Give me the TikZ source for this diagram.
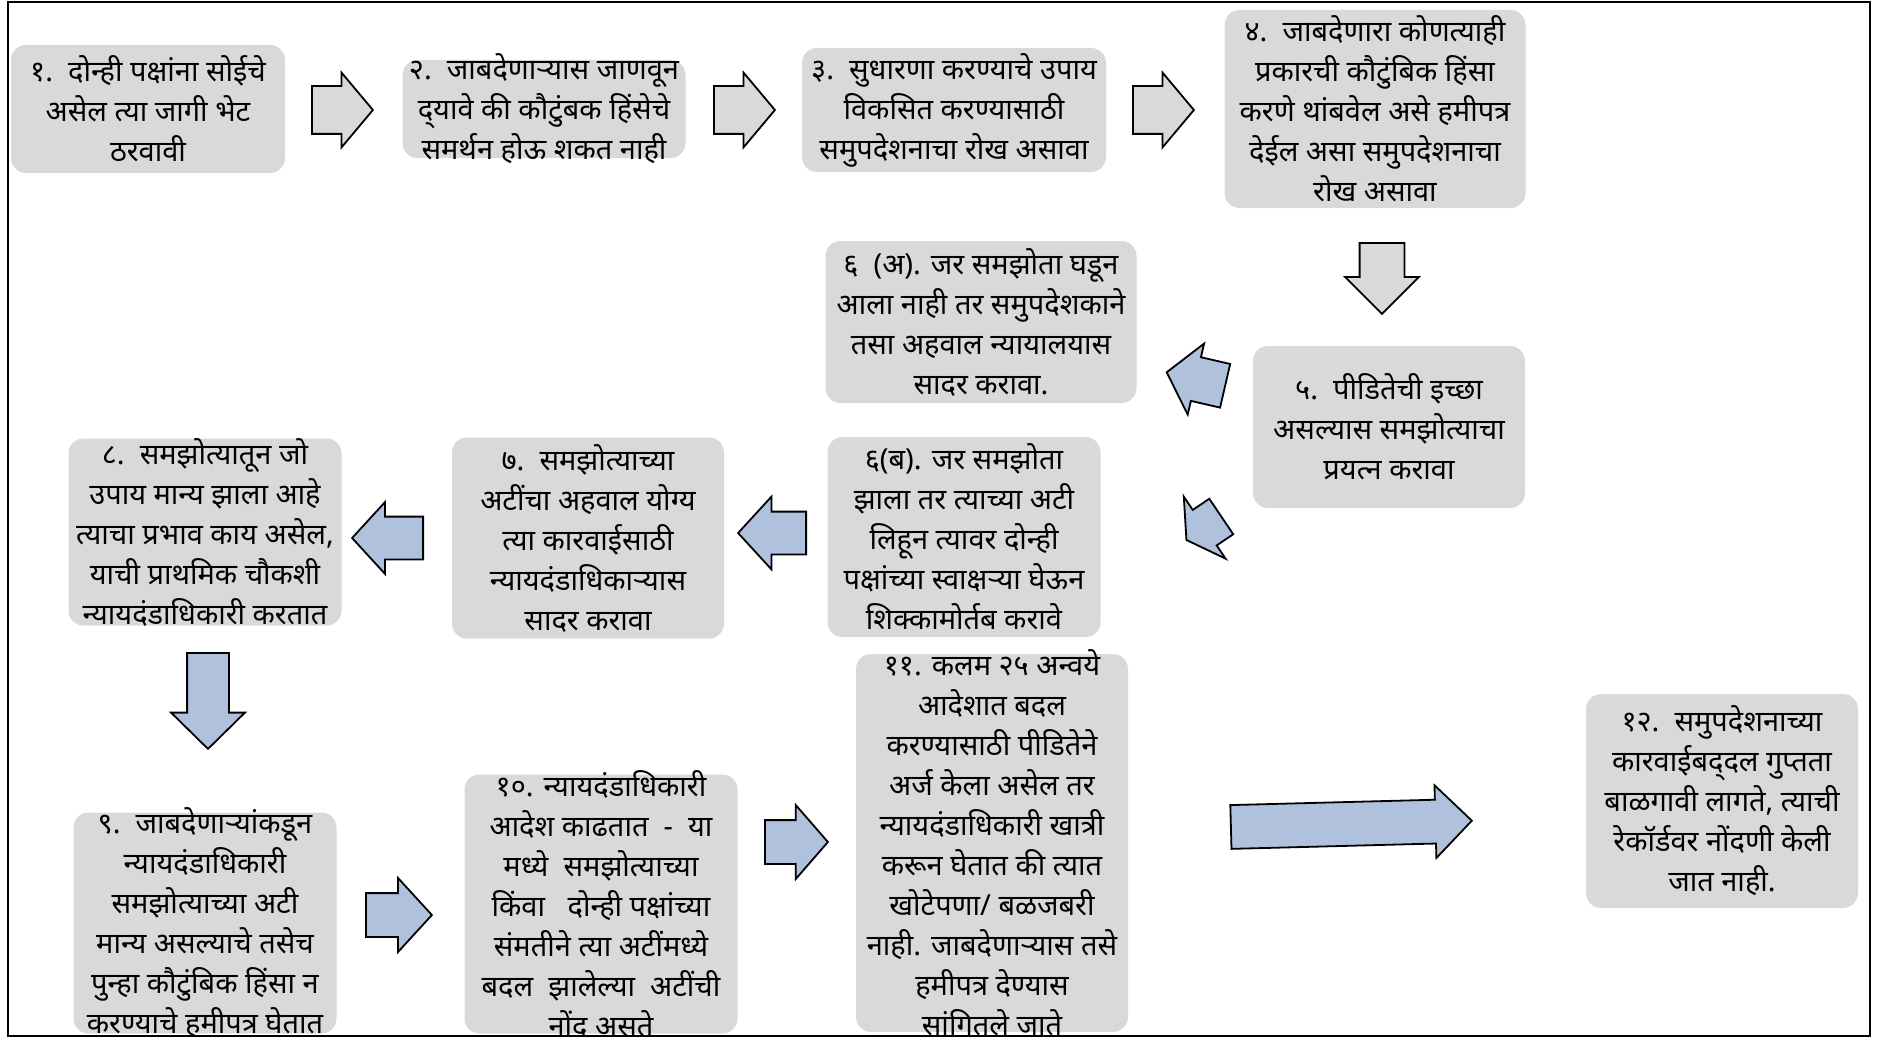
\documentclass[tikz,border=0pt]{standalone}
\usepackage{fontspec}
\newfontfamily\marathi[Script=Devanagari]{Noto Sans}
\usetikzlibrary{shapes.arrows}
\definecolor{boxgray}{RGB}{217,217,217}
\definecolor{arrowblue}{RGB}{176,193,222}

\begin{document}
\begin{tikzpicture}[x=1pt, y=-1pt,
			base/.style={fill=boxgray, rounded corners=15pt, inner sep=-80pt, align=center, font=\marathi\fontsize{29}{40}\selectfont},
			box/.style 2 args={base, minimum width=#1pt, minimum height=#2pt},
			arr/.style={single arrow, draw=black, line width=1.8pt, inner sep=0pt, single arrow head indent=0pt, anchor=tail},
			arrowsize/.style n args={4}{minimum height=#1pt, minimum width=#2pt, inner ysep={#3/2}, single arrow head extend={(#2-#3)/2}, single arrow tip angle=#4},
			grayarrow/.style={arr, fill=boxgray},
			bluearrow/.style={arr, fill=arrowblue},
		]
		\useasboundingbox (0,0) rectangle (1892,1038);
		\begin{scope}
		\clip (8,2) rectangle (1870,1036);

		\node[box={274}{128}] (b1) at (148,109) {१.\ \ दोन्ही पक्षांना सोईचे\\असेल त्या जागी भेट\\ठरवावी};
		\node[box={283}{98}] (b2) at (544,109) {२.\ \ जाबदेणाऱ्यास जाणवून\\द्^^^^200cयावे की कौटुंबक हिंसेचे\\समर्थन होऊ शकत नाही};
		\node[box={304}{124}] (b3) at (954,110) {३.\ \ सुधारणा करण्याचे उपाय\\विकसित करण्यासाठी\\समुपदेशनाचा रोख असावा};
		\node[box={301}{198}] (b4) at (1375,109) {४.\ \ जाबदेणारा कोणत्याही\\प्रकारची कौटुंबिक हिंसा\\करणे थांबवेल असे हमीपत्र\\देईल असा समुपदेशनाचा\\रोख असावा};
		\node[box={272}{162}] (b5) at (1389,427) {५.\ \ पीडितेची इच्छा\\असल्यास समझोत्याचा\\प्रयत्न करावा};
		\node[box={311}{162}] (b6a) at (981,322) {६\ \ (अ). जर समझोता घडून\\आला नाही तर समुपदेशकाने\\तसा अहवाल न्यायालयास\\सादर करावा.};
		\node[box={273}{200}] (b6b) at (964,537) {६(ब). जर समझोता\\झाला तर त्याच्या अटी\\लिहून त्यावर दोन्ही\\पक्षांच्या स्वाक्षऱ्या घेऊन\\शिक्कामोर्तब करावे};
		\node[box={272}{201}] (b7) at (588,538) {७.\ \ समझोत्याच्या\\अटींचा अहवाल योग्य\\त्या कारवाईसाठी\\न्यायदंडाधिकाऱ्यास\\सादर करावा};
		\node[box={273}{187}] (b8) at (205,532) {८.\ \ समझोत्यातून जो\\उपाय मान्य झाला आहे\\त्याचा प्रभाव काय असेल,\\याची प्राथमिक चौकशी\\न्यायदंडाधिकारी करतात};
		\node[box={263}{221}] (b9) at (205,923) {९.\ \ जाबदेणाऱ्यांकडून\\न्यायदंडाधिकारी\\समझोत्याच्या अटी\\मान्य असल्याचे तसेच\\पुन्हा कौटुंबिक हिंसा न\\करण्याचे हमीपत्र घेतात};
		\node[box={273}{259}] (b10) at (601,904) {१०. न्यायदंडाधिकारी\\आदेश काढतात \ - \ या\\मध्ये \ समझोत्याच्या\\किंवा \ \ दोन्ही पक्षांच्या\\संमतीने त्या अटींमध्ये\\बदल \ झालेल्या \ अटींची\\नोंद असते};
		\node[box={272}{378}] (b11) at (992,843) {११. कलम २५ अन्वये\\आदेशात बदल\\करण्यासाठी पीडितेने\\अर्ज केला असेल तर\\न्यायदंडाधिकारी खात्री\\करून घेतात की त्यात\\खोटेपणा/ बळजबरी\\नाही. जाबदेणाऱ्यास तसे\\हमीपत्र देण्यास\\सांगितले जाते};
		\node[box={272}{214}] (b12) at (1722,801) {१२.\ \ समुपदेशनाच्या\\कारवाईबद्^^^^200cदल गुप्तता\\बाळगावी लागते, त्याची\\रेकॉर्डवर नोंदणी केली\\जात नाही.};

		\node[grayarrow, arrowsize={61}{73}{46}{100}] (a12) at (311,110) {};
		\node[grayarrow, arrowsize={61}{73}{46}{100}] (a23) at (713,110) {};
		\node[grayarrow, arrowsize={61}{73}{46}{100}] (a34) at (1132,110) {};
		\node[grayarrow, arrowsize={71}{72}{43}{90}, rotate=-90] (a45) at (1382,242) {};
		\node[bluearrow, arrowsize={60}{71}{43}{101}, rotate=167] (a56a) at (1226,386) {};
		\node[bluearrow, arrowsize={42}{73}{41}{119}, rotate=214] (a56b) at (1222,516) {};
		\node[bluearrow, arrowsize={68}{71}{41}{95}, rotate=180] (a67) at (807,533) {};
		\node[bluearrow, arrowsize={71}{70}{41}{95}, rotate=180] (a78) at (424,538) {};
		\node[bluearrow, arrowsize={96}{72}{40}{91}, rotate=-90] (a89) at (208,652) {};
		\node[bluearrow, arrowsize={66}{72}{42}{95}] (a910) at (365,915) {};
		\node[bluearrow, arrowsize={63}{72}{42}{98}] (a1011) at (764,842) {};
		\node[bluearrow, arrowsize={241}{71}{42}{90}, rotate=1.5] (a1112) at (1230,827) {};
		\end{scope}

		\draw[line width=1.8pt] (8,2) rectangle (1870,1036);
		\end{tikzpicture}
\end{document}
